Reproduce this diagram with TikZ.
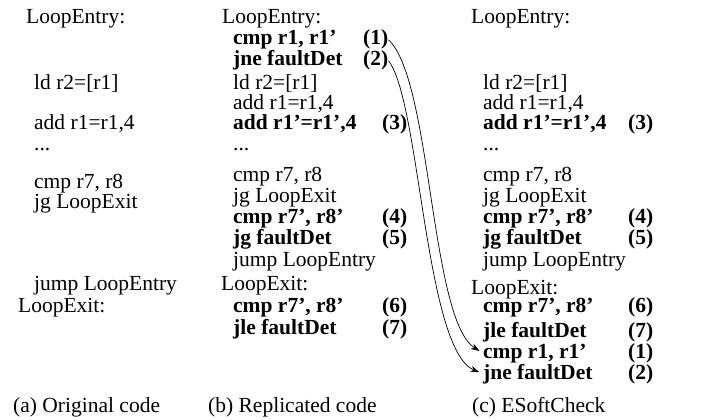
\documentclass[tikz,border=0pt]{standalone}
\usepackage{fontspec}
\setmainfont{Liberation Serif}
\usetikzlibrary{arrows.meta}

\begin{document}
\begin{tikzpicture}[x=1pt, y=-1pt,
    code/.style={anchor=base west, inner sep=0pt, font=\fontsize{21.5}{21}\selectfont},
    chk/.style={code, font=\fontsize{21.5}{21}\selectfont\bfseries},
    link/.style={-{Stealth[length=9pt,width=6pt]}, line width=0.7pt, shorten >=4pt}]
    \useasboundingbox (0,0) rectangle (713,420);

    % (a) original code
    \node[code] (aEntry) at (26,24) {LoopEntry:};
    \node[code] (aLd)    at (34,90) {ld r2=[r1]};
    \node[code] (aAdd)   at (34,130) {add r1=r1,4};
    \node[code] (aDots)  at (34,150) {...};
    \node[code] (aCmp)   at (34,188) {cmp r7, r8};
    \node[code] (aJg)    at (34,208) {jg LoopExit};
    \node[code] (aJump)  at (34,290) {jump LoopEntry};
    \node[code] (aExit)  at (18,312) {LoopExit:};
    \node[code] (aCap)   at (13,412) {(a) Original code};

    % (b) replicated code
    \node[code] (bEntry) at (222,24) {LoopEntry:};
    \node[chk]  (bChk)   at (233,45) {cmp r1, r1'};
    \node[chk]  (bJne)   at (233,66) {jne faultDet};
    \node[code] (bLd)    at (233,90) {ld r2=[r1]};
    \node[code] (bAdd)   at (233,110) {add r1=r1,4};
    \node[chk]  (bAddR)  at (233,130) {add r1'=r1',4};
    \node[code] (bDots)  at (233,150) {...};
    \node[code] (bCmp)   at (233,181) {cmp r7, r8};
    \node[code] (bJg)    at (233,202) {jg LoopExit};
    \node[chk]  (bCmpR)  at (233,223) {cmp r7', r8'};
    \node[chk]  (bJgF)   at (233,244) {jg faultDet};
    \node[code] (bJump)  at (233,266) {jump LoopEntry};
    \node[code] (bExit)  at (221,290) {LoopExit:};
    \node[chk]  (bCmpX)  at (233,312) {cmp r7', r8'};
    \node[chk]  (bJle)   at (233,334) {jle faultDet};
    \node[code] (bCap)   at (208,412) {(b) Replicated code};
    \node[chk]  (b1) at (363,45) {(1)};
    \node[chk]  (b2) at (363,66) {(2)};
    \foreach \n/\y in {3/130, 4/223, 5/244, 6/312, 7/334}
        \node[chk] (b\n) at (382,\y) {(\n)};

    % (c) ESoftCheck
    \node[code] (cEntry) at (471,24) {LoopEntry:};
    \node[code] (cLd)    at (483,90) {ld r2=[r1]};
    \node[code] (cAdd)   at (483,110) {add r1=r1,4};
    \node[chk]  (cAddR)  at (483,130) {add r1'=r1',4};
    \node[code] (cDots)  at (483,150) {...};
    \node[code] (cCmp)   at (483,181) {cmp r7, r8};
    \node[code] (cJg)    at (483,202) {jg LoopExit};
    \node[chk]  (cCmpR)  at (483,223) {cmp r7', r8'};
    \node[chk]  (cJgF)   at (483,244) {jg faultDet};
    \node[code] (cJump)  at (483,266) {jump LoopEntry};
    \node[code] (cExit)  at (471,294) {LoopExit:};
    \node[chk]  (cCmpX)  at (483,312) {cmp r7', r8'};
    \node[chk]  (cJle)   at (483,337) {jle faultDet};
    \node[chk]  (cChk)   at (483,358) {cmp r1, r1'};
    \node[chk]  (cJne)   at (483,379) {jne faultDet};
    \node[code] (cCap)   at (472,412) {(c) ESoftCheck};
    \foreach \n/\y in {3/130, 4/223, 5/244, 6/312, 7/337, 1/358, 2/379}
        \node[chk] (c\n) at (628,\y) {(\n)};

    % moved checks
    \draw[link] (b1.east) .. controls (432,80) and (430,320) .. (cChk.west);
    \draw[link] (b2.east) .. controls (420,100) and (425,350) .. (cJne.west);
\end{tikzpicture}
\end{document}
